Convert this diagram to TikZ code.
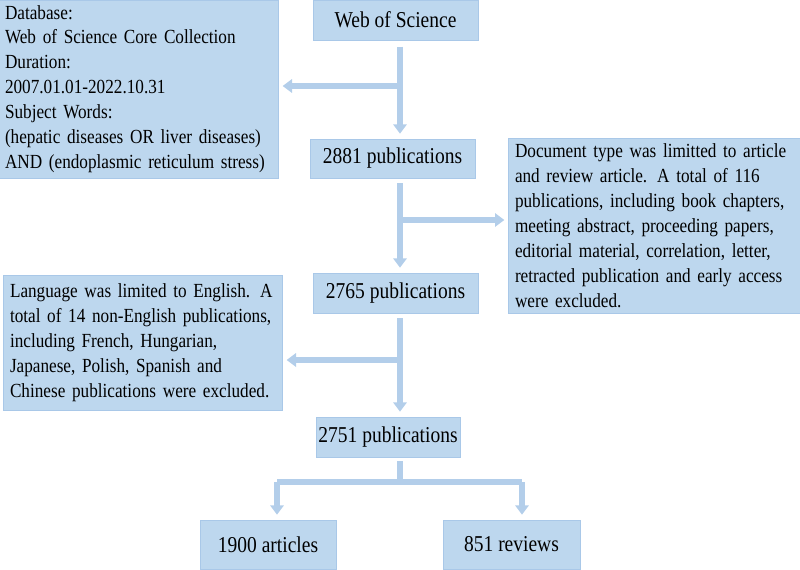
\documentclass[tikz,border=0pt]{standalone}
\usepackage{fontspec}
\setmainfont{Liberation Serif}[FakeStretch=0.86]
\usetikzlibrary{arrows.meta}
\definecolor{boxfill}{HTML}{BDD7EE}
\definecolor{boxline}{HTML}{A9C8E8}
\definecolor{arrcol}{HTML}{B3CEEA}
\tikzset{
  bx/.style={draw=boxline, fill=boxfill, line width=0.6pt, inner sep=0pt, outer sep=0pt},
  bignode/.style={bx, font=\fontsize{17}{20}\selectfont},
  txtbox/.style={bx, font=\fontsize{15}{18.7}\selectfont, align=left, inner xsep=5pt},
  arr/.style={draw=arrcol, line width=3.8pt, -{Triangle[width=10pt,length=7pt]}},
  ln/.style={draw=arrcol, line width=3.8pt}
}
\begin{document}
\begin{tikzpicture}[x=0.75pt,y=-0.75pt]
\useasboundingbox (0,0) rectangle (800,569);
\node[txtbox, minimum width={277*0.75pt}, minimum height={178*0.75pt}, text width={267*0.75pt}] (db) at (138.5,89)
 {Database:\\Web of Science Core Collection\\Duration:\\2007.01.01-2022.10.31\\Subject Words:\\(hepatic diseases OR liver diseases)\\AND (endoplasmic reticulum stress)};
\node[bignode, minimum width={165*0.75pt}, minimum height={40*0.75pt}] (wos) at (395.5,20) {Web of Science};
\node[bignode, minimum width={165*0.75pt}, minimum height={39*0.75pt}] (p1) at (392.5,158.5) {2881 publications};
\node[txtbox, minimum width={290*0.75pt}, minimum height={175*0.75pt}, text width={280*0.75pt}] (doc) at (655,225.5)
 {Document type was limitted to article\\and review article. A total of 116\\publications, including book chapters,\\meeting abstract, proceeding papers,\\editorial material, correlation, letter,\\retracted publication and early access\\were excluded.};
\node[bignode, minimum width={165*0.75pt}, minimum height={40*0.75pt}] (p2) at (395.5,293) {2765 publications};
\node[txtbox, minimum width={276*0.75pt}, minimum height={135*0.75pt}, text width={266*0.75pt}] (lang) at (143,342.5)
 {Language was limited to English. A\\total of 14 non-English publications,\\including French, Hungarian,\\Japanese, Polish, Spanish and\\Chinese publications were excluded.};
\node[bignode, minimum width={144*0.75pt}, minimum height={40*0.75pt}] (p3) at (388,437) {2751 publications};
\node[bignode, minimum width={136*0.75pt}, minimum height={49*0.75pt}] (art) at (268,544.5) {1900 articles};
\node[bignode, minimum width={137*0.75pt}, minimum height={49*0.75pt}] (rev) at (511.5,544.5) {851 reviews};
\coordinate (v) at (400,0);
\coordinate (j1) at (400,86);
\coordinate (j2) at (400,220);
\coordinate (j3) at (400,360);
\coordinate (j4) at (400,482);
\coordinate (bl) at (277,482);
\coordinate (br) at (522,482);
% vertical flow
\draw[arr, shorten <=5pt, shorten >=4pt] (wos.south -| v) -- (p1.north -| v);
\draw[arr, shorten <=4pt, shorten >=4pt] (p1.south -| v) -- (p2.north -| v);
\draw[arr, shorten <=4pt, shorten >=4pt] (p2.south -| v) -- (p3.north -| v);
% side branches
\draw[arr, shorten >=3pt] (j1) -- (j1 -| db.east);
\draw[arr, shorten >=3pt] (j2) -- (j2 -| doc.west);
\draw[arr, shorten >=3pt] (j3) -- (j3 -| lang.east);
% bottom split
\draw[ln, shorten <=3pt] (p3.south -| v) -- (j4);
\draw[ln] (bl) -- (br);
\draw[arr, shorten >=4pt] (bl) -- (bl |- art.north);
\draw[arr, shorten >=4pt] (br) -- (br |- rev.north);
\end{tikzpicture}
\end{document}
